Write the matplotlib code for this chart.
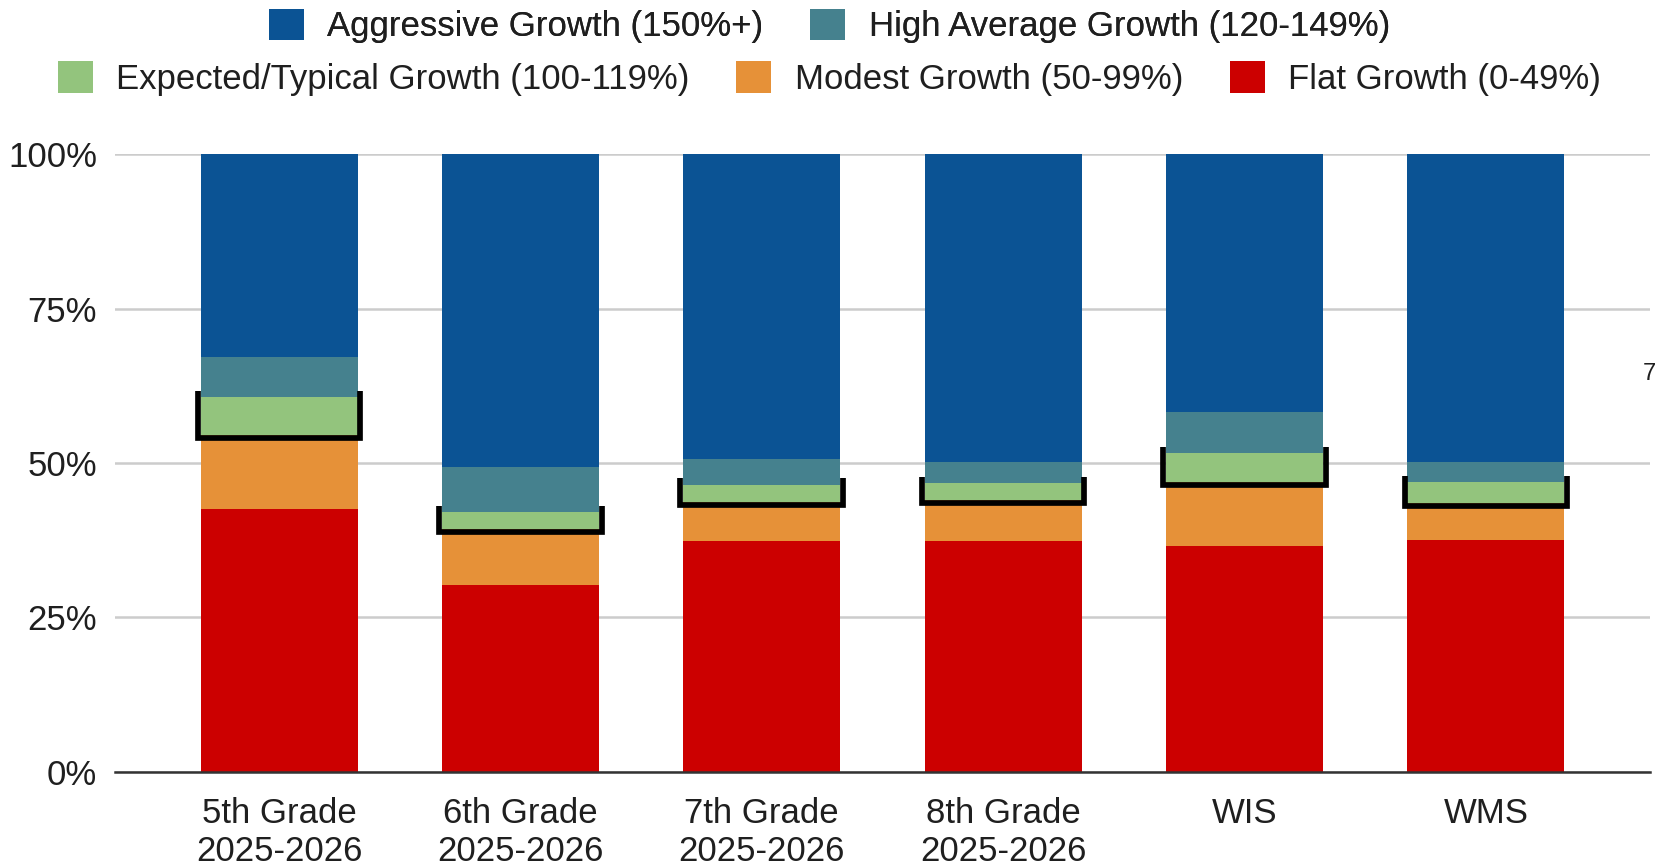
import matplotlib.pyplot as plt
import numpy as np

plt.rcParams['font.family'] = ['Liberation Sans', 'DejaVu Sans']

# data (percent of students)
groups = ['5th Grade\n2025-2026', '6th Grade\n2025-2026', '7th Grade\n2025-2026',
          '8th Grade\n2025-2026', 'WIS', 'WMS']
flat = [42.6, 30.3, 37.4, 37.4, 36.6, 37.5]
modest = [11.9, 9.0, 6.3, 6.6, 10.3, 6.0]
expected = [6.2, 2.8, 2.8, 2.8, 4.7, 3.4]
high_avg = [6.5, 7.2, 4.1, 3.4, 6.6, 3.3]
aggressive = [32.8, 50.7, 49.4, 49.8, 41.8, 49.8]

names = ['Flat Growth (0-49%)', 'Modest Growth (50-99%)', 'Expected/Typical Growth (100-119%)',
         'High Average Growth (120-149%)', 'Aggressive Growth (150%+)']
colors = ['#cc0000', '#e69138', '#93c47d', '#45818e', '#0b5394']
series = [flat, modest, expected, high_avg, aggressive]

txt = '#1f1f1f'
fig = plt.figure(figsize=(16.69, 8.65), dpi=100)
ax = fig.add_axes([0.0689, 0.1079, 0.9197, 0.7137])

x = np.arange(len(groups))
w = 0.65
bottom = np.zeros(len(groups))
bars = {}
for name, vals, c in zip(names, series, colors):
    vals = np.array(vals)
    bars[name] = ax.bar(x, vals, w, bottom=bottom, color=c, zorder=2, label=name)
    if name.startswith('Expected'):
        g_bot = bottom.copy()
        g_top = bottom + vals
    bottom = bottom + vals

# black bracket round the expected-growth segment
d = 0.012
for i in range(len(groups)):
    xl = x[i] - w / 2 - d
    xr = x[i] + w / 2 + d
    top = g_top[i] + 1.0
    bot = g_bot[i] - 0.45
    ax.plot([xl, xl, xr, xr], [top, bot, bot, top], color='black', lw=4.1,
            solid_joinstyle='miter', solid_capstyle='butt', zorder=3)

ax.set_xlim(-0.68, 5.68)
ax.set_ylim(0, 100)
ax.set_yticks([0, 25, 50, 75, 100])
ax.set_yticklabels(['0%', '25%', '50%', '75%', '100%'])
ax.set_xticks(x)
ax.set_xticklabels(groups, linespacing=1.2)
ax.tick_params(axis='both', length=0, labelsize=25, colors=txt)
ax.tick_params(axis='y', pad=13)
ax.tick_params(axis='x', pad=18)
ax.grid(axis='y', color='#cccccc', lw=1.8, zorder=0)
for s in ['top', 'right', 'left']:
    ax.spines[s].set_visible(False)
ax.spines['bottom'].set_color('#333333')
ax.spines['bottom'].set_linewidth(1.8)
ax.spines['bottom'].set_zorder(4)

h = {n: bars[n] for n in names}
kw = dict(loc='center', frameon=False, fontsize=25, handlelength=1.0, handleheight=1.0,
          handletextpad=0.68, columnspacing=1.35, labelcolor=txt, borderaxespad=0)
leg1 = fig.legend([h[names[4]], h[names[3]]], [names[4], names[3]], ncol=2,
                  bbox_to_anchor=(0.497, 0.970), **kw)
fig.add_artist(leg1)
fig.legend([h[names[2]], h[names[1]], h[names[0]]], [names[2], names[1], names[0]], ncol=3,
           bbox_to_anchor=(0.497, 0.909), **kw)

fig.text(0.988, 1 - 374 / 865, '7', fontsize=17, color=txt, ha='center', va='center')

fig.savefig('out.png', dpi=100)
